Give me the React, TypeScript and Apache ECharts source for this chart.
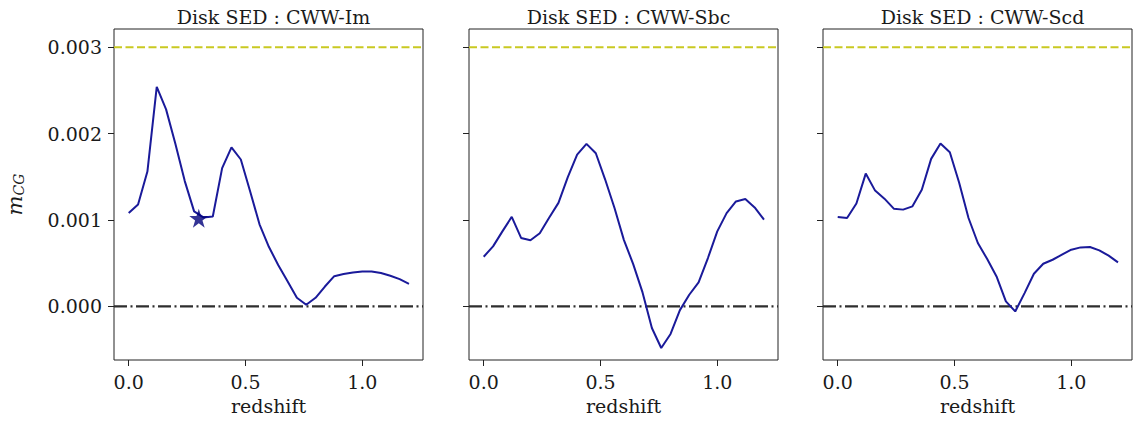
import React, { useEffect, useRef } from "react";
import * as echarts from "echarts";

const redshift = [
  0.0, 0.04, 0.08, 0.12, 0.16, 0.2, 0.24, 0.28, 0.32, 0.36, 0.4, 0.44, 0.48, 0.52, 0.56, 0.6,
  0.64, 0.68, 0.72, 0.76, 0.8, 0.84, 0.88, 0.92, 0.96, 1.0, 1.04, 1.08, 1.12, 1.16, 1.2,
];

// m_CG values (units of 1e-3)
const mcgIm = [
  1.08, 1.18, 1.56, 2.54, 2.28, 1.88, 1.45, 1.1, 1.03, 1.04, 1.6, 1.84, 1.7, 1.33, 0.95, 0.69,
  0.48, 0.29, 0.1, 0.02, 0.1, 0.23, 0.35, 0.375, 0.393, 0.405, 0.405, 0.386, 0.355, 0.316, 0.262,
];
const mcgSbc = [
  0.575, 0.695, 0.868, 1.037, 0.792, 0.766, 0.847, 1.026, 1.198, 1.497, 1.757, 1.881, 1.772,
  1.468, 1.139, 0.77, 0.49, 0.162, -0.25, -0.481, -0.319, -0.043, 0.135, 0.278, 0.56, 0.868,
  1.08, 1.215, 1.242, 1.145, 1.005,
];
const mcgScd = [
  1.035, 1.023, 1.19, 1.537, 1.34, 1.247, 1.131, 1.12, 1.158, 1.35, 1.707, 1.884, 1.784, 1.43,
  1.023, 0.734, 0.548, 0.347, 0.058, -0.058, 0.154, 0.378, 0.494, 0.54, 0.598, 0.656, 0.683,
  0.687, 0.649, 0.587, 0.51,
];

const starX = [0.3];
const starY = [1.02];

const panelTitles = ["Disk SED : CWW-Im", "Disk SED : CWW-Sbc", "Disk SED : CWW-Scd"];
const xTicks = [0, 0.5, 1.0];
const yTicks = [0, 0.001, 0.002, 0.003];
const upperLevel = 0.003;
const zeroLevel = 0.0;
const xMin = -0.063;
const xMax = 1.26;
const yMin = -0.00062;
const yMax = 0.00321;

const FONT = "DejaVu Serif";
const STAR =
  "path://M50,0 L61.8,35.4 L99,35.4 L69,57.3 L80.4,92.7 L50,70.8 L19.6,92.7 L31,57.3 L1,35.4 L38.2,35.4 Z";

export default function App() {
  const ref = useRef<HTMLDivElement>(null);

  useEffect(() => {
    if (!ref.current) return;
    const chart = echarts.init(ref.current, null, { renderer: "svg" });

    const lefts = [114, 469, 823];
    const gw = 309;
    const seriesData = [mcgIm, mcgSbc, mcgScd];

    const grids = lefts.map((l) => ({
      left: l,
      top: 29,
      width: gw,
      height: 331,
      show: true,
      borderColor: "#222",
      borderWidth: 1,
      backgroundColor: "transparent",
    }));

    const xAxes = lefts.map((_, i) => ({
      type: "value",
      gridIndex: i,
      min: xMin,
      max: xMax,
      name: "redshift",
      nameLocation: "middle",
      nameGap: 36,
      nameTextStyle: { fontFamily: FONT, fontSize: 19, color: "#1a1a1a" },
      axisLine: { show: false, onZero: false },
      splitLine: { show: false },
      axisTick: { show: true, length: 6, inside: false, customValues: xTicks, lineStyle: { color: "#222" } },
      axisLabel: {
        show: true,
        customValues: xTicks,
        margin: 12,
        fontFamily: FONT,
        fontSize: 19,
        color: "#1a1a1a",
        formatter: (v: number) => v.toFixed(1),
      },
    }));

    const yAxes = lefts.map((_, i) => ({
      type: "value",
      gridIndex: i,
      min: yMin,
      max: yMax,
      name: i === 0 ? "{m|m}{s|CG}" : "",
      nameLocation: "middle",
      nameRotate: 90,
      nameGap: 88,
      nameTextStyle: {
        rich: {
          m: { fontFamily: FONT, fontStyle: "italic", fontSize: 21, color: "#1a1a1a" },
          s: { fontFamily: FONT, fontStyle: "italic", fontSize: 14, color: "#1a1a1a", padding: [9, 0, 0, 0] },
        },
      },
      axisLine: { show: false, onZero: false },
      splitLine: { show: false },
      axisTick: { show: true, length: 6, inside: false, customValues: yTicks, lineStyle: { color: "#222" } },
      axisLabel: {
        show: i === 0,
        customValues: yTicks,
        margin: 12,
        fontFamily: FONT,
        fontSize: 19,
        color: "#1a1a1a",
        formatter: (v: number) => v.toFixed(3),
      },
    }));

    const series: any[] = [];
    seriesData.forEach((vals, i) => {
      series.push({
        type: "line",
        xAxisIndex: i,
        yAxisIndex: i,
        data: [
          [xMin, upperLevel],
          [xMax, upperLevel],
        ],
        showSymbol: false,
        symbol: "none",
        silent: true,
        lineStyle: { color: "#c9c922", width: 2, type: [8, 3.5] },
        z: 2,
      });
      series.push({
        type: "line",
        xAxisIndex: i,
        yAxisIndex: i,
        data: [
          [xMin, zeroLevel],
          [xMax, zeroLevel],
        ],
        showSymbol: false,
        symbol: "none",
        silent: true,
        lineStyle: { color: "#2e2e2e", width: 2.2, type: [13, 3.5, 2, 3.5] },
        z: 2,
      });
      series.push({
        type: "line",
        xAxisIndex: i,
        yAxisIndex: i,
        data: redshift.map((z, k) => [z, vals[k] / 1000]),
        showSymbol: false,
        symbol: "none",
        lineStyle: { color: "#1a1a9a", width: 2 },
        z: 3,
      });
    });
    series.push({
      type: "scatter",
      xAxisIndex: 0,
      yAxisIndex: 0,
      data: starX.map((x, k) => [x, starY[k] / 1000]),
      symbol: STAR,
      symbolSize: 19,
      itemStyle: { color: "#00007a" },
      z: 5,
    });

    chart.setOption({
      animation: false,
      backgroundColor: "#fff",
      title: panelTitles.map((t, i) => ({
        text: t,
        left: lefts[i] + gw / 2,
        top: 2,
        textAlign: "center",
        textStyle: { fontFamily: FONT, fontSize: 19, fontWeight: "normal", color: "#1a1a1a" },
      })),
      grid: grids,
      xAxis: xAxes,
      yAxis: yAxes,
      series,
    });

    return () => chart.dispose();
  }, []);

  return (
    <div
      ref={ref}
      style={{ position: "absolute", left: 0, top: 0, width: 1136, height: 430 }}
    />
  );
}
